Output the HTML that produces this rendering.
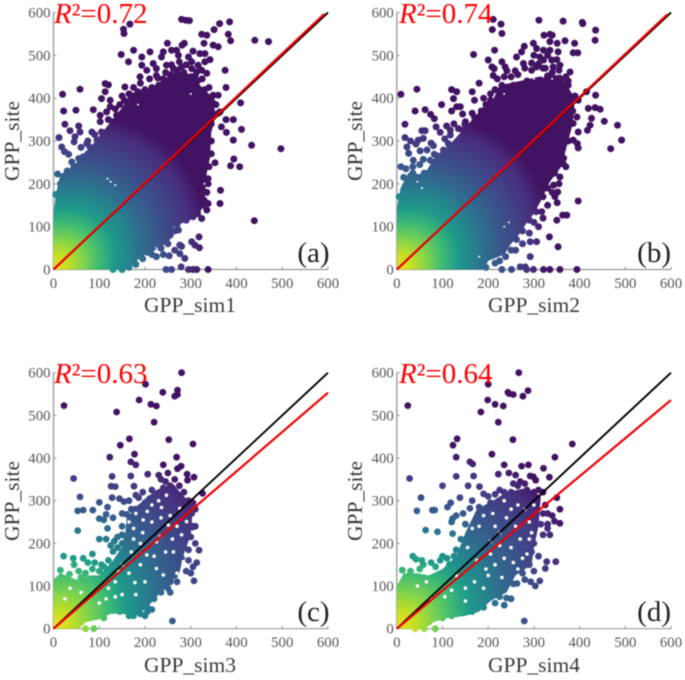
<!DOCTYPE html>
<html lang="en">
<head>
<meta charset="utf-8">
<title>GPP site vs simulated scatter panels</title>
<style>
html,body{margin:0;padding:0;background:#fff;width:685px;height:680px;overflow:hidden}
svg{display:block;filter:blur(0.4px)}
text{font-family:"Liberation Serif",serif}
.tick{font-size:14.8px;fill:#555}
.axis-title{font-size:21.5px;fill:#3a3a3a}
.r2{font-size:29px;fill:#ff0000}
.panel-tag{font-size:29px;fill:#222}
</style>
</head>
<body>
<svg id="figure" width="685" height="680" viewBox="0 0 685 680" xmlns="http://www.w3.org/2000/svg">
  <defs id="gradients"></defs>
  <g id="panel-a">
    <g class="plot"></g>
    <text class="axis-title" x="190" y="312" text-anchor="middle">GPP_sim1</text>
    <text class="axis-title" transform="translate(19,141) rotate(-90)" text-anchor="middle">GPP_site</text>
    <text class="r2" x="54" y="23"><tspan font-style="italic">R</tspan>²=0.72</text>
    <text class="panel-tag" x="329.5" y="262" text-anchor="end">(a)</text>
  </g>
  <g id="panel-b">
    <g class="plot"></g>
    <text class="axis-title" x="534" y="312" text-anchor="middle">GPP_sim2</text>
    <text class="axis-title" transform="translate(362,141) rotate(-90)" text-anchor="middle">GPP_site</text>
    <text class="r2" x="399" y="23"><tspan font-style="italic">R</tspan>²=0.74</text>
    <text class="panel-tag" x="671" y="262" text-anchor="end">(b)</text>
  </g>
  <g id="panel-c">
    <g class="plot"></g>
    <text class="axis-title" x="190" y="672" text-anchor="middle">GPP_sim3</text>
    <text class="axis-title" transform="translate(19,501) rotate(-90)" text-anchor="middle">GPP_site</text>
    <text class="r2" x="54" y="383"><tspan font-style="italic">R</tspan>²=0.63</text>
    <text class="panel-tag" x="329.5" y="621" text-anchor="end">(c)</text>
  </g>
  <g id="panel-d">
    <g class="plot"></g>
    <text class="axis-title" x="534" y="672" text-anchor="middle">GPP_sim4</text>
    <text class="axis-title" transform="translate(362,501) rotate(-90)" text-anchor="middle">GPP_site</text>
    <text class="r2" x="399" y="383"><tspan font-style="italic">R</tspan>²=0.64</text>
    <text class="panel-tag" x="671" y="621" text-anchor="end">(d)</text>
  </g>
</svg>
<script>
const tickValues = [0,100,200,300,400,500,600];
const identityLine = [0,600];
const fitSlopes = [1.008,1.006,0.922,0.893];

const coreA = [[0,0],[0,130],[5,175],[15,222],[30,232],[60,258],[90,298],[120,338],[150,378],[170,412],[210,422],[240,443],[270,465],[300,455],[320,430],[345,405],[355,362],[345,320],[342,260],[335,225],[330,160],[318,125],[290,112],[262,100],[255,70],[232,50],[192,30],[170,8],[150,0]];
const coreB = [[0,0],[0,140],[8,190],[25,225],[60,222],[85,265],[110,285],[140,320],[165,350],[190,380],[210,395],[225,430],[270,440],[310,450],[360,455],[375,425],[390,400],[385,340],[370,280],[360,240],[335,205],[315,160],[300,130],[285,110],[270,85],[250,60],[235,35],[200,20],[190,0]];
const coreC = [[0,0],[0,115],[15,130],[50,115],[80,125],[100,125],[130,160],[155,200],[160,260],[195,300],[225,325],[260,340],[285,310],[305,290],[300,220],[285,175],[275,130],[250,100],[225,75],[205,50],[180,30],[150,35],[125,35],[100,22],[70,15],[55,0]];
const coreD = [[0,0],[0,100],[15,130],[45,130],[70,125],[100,140],[130,170],[150,225],[175,280],[210,300],[240,320],[285,330],[315,310],[310,240],[300,190],[295,150],[260,125],[240,85],[205,65],[180,40],[150,30],[110,25],[80,15],[60,0]];

const pointsA = [[280,584],[289,582],[297,581],[167,573],[153,561],[154,551],[351,560],[363,574],[385,578],[382,549],[387,534],[440,535],[470,532],[324,549],[335,547],[329,528],[349,524],[360,520],[375,465],[377,425],[409,389],[393,350],[377,350],[367,333],[411,327],[393,302],[378,320],[433,290],[497,282],[394,258],[387,242],[407,240],[365,185],[364,154],[439,114],[353,249],[338,212],[20,409],[58,421],[22,370],[49,372],[25,339],[12,308],[36,324],[55,335],[58,321],[47,310],[45,298],[18,286],[24,275],[33,269],[87,373],[113,434],[120,431],[113,415],[105,399],[102,360],[102,345],[124,395],[124,380],[116,368],[84,321],[105,321],[73,294],[95,302],[116,310],[98,286],[87,271],[65,263],[55,259],[40,251],[9,223],[148,502],[175,512],[164,485],[156,426],[138,360],[193,496],[211,508],[193,477],[204,465],[189,450],[218,481],[225,469],[225,453],[236,496],[249,528],[240,508],[258,512],[269,512],[281,524],[286,528],[273,500],[305,510],[320,504],[331,504],[342,490],[331,485],[295,496],[302,485],[316,477],[302,469],[324,465],[335,458],[313,461],[247,477],[262,469],[280,473],[253,32],[276,37],[287,26],[279,6],[295,0],[305,0],[313,0],[338,0],[258,0],[246,0],[302,65],[318,76],[309,57],[319,51],[273,92],[276,57],[280,54],[338,154],[335,139],[324,119],[305,123],[329,162],[335,403],[349,407],[360,407],[349,388],[364,368],[5,175],[15,200],[30,230],[45,240],[60,255],[75,270],[100,280],[115,300],[140,340],[150,350],[165,380],[170,400],[185,415],[200,420],[215,425],[230,430],[240,445],[255,455],[270,465],[285,460],[300,450],[315,440],[330,420],[345,400],[355,385],[360,365],[345,340],[345,300],[345,270],[340,240],[338,200],[335,180],[325,150],[315,130],[290,115],[270,105],[265,90],[255,80],[250,60],[235,50],[215,35],[195,25],[180,12],[165,5],[150,0],[130,0],[155,395],[165,410],[175,425],[190,435],[210,445],[228,447],[245,460],[258,478],[275,485],[290,478],[310,452],[325,445],[340,425],[130,345],[135,375],[150,405],[170,390],[185,402],[145,385],[120,320],[130,330],[140,320],[105,300],[90,315],[75,300],[80,285],[60,285],[120,350],[160,20],[175,25],[190,35],[205,40],[145,8],[225,30],[240,35],[265,45]];

const pointsB = [[211,584],[228,573],[209,560],[230,551],[214,512],[311,582],[364,580],[406,577],[407,574],[435,559],[322,547],[335,549],[340,547],[434,535],[368,534],[389,528],[335,532],[351,528],[299,528],[279,521],[306,516],[321,512],[335,512],[353,508],[386,506],[396,506],[273,508],[168,502],[200,489],[262,496],[277,481],[295,482],[313,496],[321,489],[339,489],[230,485],[237,473],[208,473],[213,469],[211,453],[241,464],[259,464],[306,473],[342,473],[357,477],[379,461],[375,440],[9,409],[44,421],[40,370],[62,373],[74,362],[82,352],[18,339],[86,333],[18,308],[98,385],[120,420],[131,415],[124,399],[131,380],[120,370],[139,380],[144,363],[109,335],[117,325],[135,329],[149,339],[55,324],[62,324],[58,306],[47,302],[42,293],[22,286],[26,271],[51,277],[66,279],[80,289],[82,269],[58,257],[9,240],[50,245],[117,314],[113,294],[102,279],[36,255],[73,255],[415,415],[397,395],[435,407],[434,378],[445,374],[454,346],[483,337],[492,302],[468,282],[419,376],[426,353],[423,337],[417,325],[394,356],[386,341],[397,321],[386,302],[395,294],[397,284],[364,247],[357,216],[343,197],[352,181],[346,170],[351,156],[397,160],[372,127],[363,127],[350,115],[317,135],[310,100],[334,76],[353,53],[292,65],[306,65],[292,30],[270,6],[281,6],[299,0],[321,0],[335,0],[357,0],[394,0],[251,0],[230,0],[284,0],[5,170],[15,215],[35,225],[60,225],[90,265],[115,290],[145,325],[170,355],[185,370],[195,385],[205,395],[170,395],[165,415],[180,435],[190,400],[215,420],[230,430],[255,430],[285,440],[330,452],[375,430],[390,405],[385,370],[375,300],[365,260],[345,225],[330,190],[320,170],[305,135],[290,115],[275,90],[262,70],[250,45],[238,30],[215,15],[195,5],[250,450],[265,455],[280,470],[295,465],[310,480],[325,470],[340,460],[355,465],[370,450],[300,500],[320,470],[350,490],[330,500],[220,445],[235,450],[205,410],[150,345],[165,365],[125,340],[95,320],[105,305],[75,295],[30,300],[35,240],[20,235],[300,110],[320,120],[330,150],[340,180],[355,200],[370,240],[260,45],[275,60],[225,20],[290,85]];

const pointsC = [[280,600],[201,573],[187,536],[239,554],[271,559],[271,549],[265,545],[213,526],[225,522],[23,523],[138,508],[220,484],[166,445],[146,430],[252,443],[305,433],[177,409],[123,402],[269,402],[169,391],[180,384],[240,384],[279,381],[271,375],[206,362],[128,357],[169,358],[292,362],[307,355],[44,352],[126,334],[135,333],[176,334],[293,348],[58,309],[128,307],[144,305],[154,298],[180,313],[186,307],[100,296],[118,285],[53,276],[65,278],[86,278],[53,230],[100,210],[326,317],[318,184],[313,155],[307,112],[260,18],[303,238],[302,270],[299,294],[15,137],[22,170],[43,165],[45,150],[55,135],[65,165],[75,155],[85,175],[90,155],[100,135],[110,145],[125,120],[35,128],[130,181],[133,205],[115,210],[118,235],[110,255],[100,258],[115,268],[130,260],[140,215],[150,220],[160,210],[150,200],[150,270],[160,268],[170,280],[180,280],[190,285],[200,295],[210,305],[215,325],[225,310],[240,330],[235,350],[245,345],[255,335],[265,350],[275,335],[285,320],[295,300],[305,295],[310,280],[290,270],[305,240],[290,215],[300,215],[285,190],[275,200],[295,160],[290,135],[300,130],[270,155],[280,165],[260,150],[250,140],[265,125],[255,110],[240,105],[230,100],[250,95],[220,70],[200,90],[205,50],[205,40],[200,30],[190,35],[175,30],[165,30],[180,50],[170,70],[145,40],[120,45],[130,60],[110,25],[95,30],[85,45],[70,0],[88,0],[60,15],[65,30],[70,130],[85,140],[60,120],[105,150],[120,160],[125,195],[140,190],[150,240],[165,300],[195,320],[230,360],[250,365],[260,330],[280,300],[295,250],[310,240],[310,200],[295,185],[305,145],[270,110],[255,85],[235,85],[215,45]];

const pointsD = [[267,600],[200,573],[199,536],[184,508],[24,523],[215,526],[233,522],[222,484],[243,554],[246,551],[255,549],[276,545],[287,558],[254,443],[132,445],[123,430],[384,433],[130,402],[208,409],[160,391],[166,386],[235,384],[273,381],[288,384],[321,376],[346,402],[130,357],[168,358],[28,352],[222,362],[100,335],[156,335],[181,333],[292,358],[299,356],[334,355],[304,348],[53,307],[138,307],[190,316],[118,295],[111,285],[44,276],[78,278],[83,278],[63,231],[89,227],[122,223],[348,157],[357,280],[357,247],[345,252],[350,307],[328,157],[325,141],[313,112],[293,110],[303,100],[263,106],[279,18],[84,0],[12,137],[35,170],[42,163],[55,160],[58,150],[75,155],[95,160],[100,170],[110,165],[125,170],[140,165],[150,200],[120,250],[122,258],[130,265],[145,270],[160,282],[180,285],[195,270],[205,295],[215,315],[235,320],[250,320],[255,340],[245,365],[260,360],[270,345],[280,340],[285,325],[300,320],[320,320],[305,300],[320,270],[330,270],[315,245],[330,245],[320,220],[335,220],[330,235],[300,200],[295,180],[290,150],[270,140],[275,130],[250,135],[240,125],[235,100],[220,95],[225,75],[240,72],[250,70],[235,55],[205,80],[190,80],[195,110],[175,50],[165,40],[150,50],[130,35],[120,30],[100,25],[100,50],[85,30],[70,15],[60,0],[40,0],[50,140],[30,135],[85,145],[115,150],[130,185],[140,210],[150,245],[165,300],[200,310],[225,325],[265,335],[310,325],[325,290],[340,265],[300,135],[310,170],[280,115],[255,105],[215,60],[190,50]];

const gapsA = [[125,205],[135,197],[118,212],[225,50],[205,30],[330,200],[300,410],[185,385]];
const gapsB = [[300,445],[320,450],[340,445],[235,410],[55,190],[45,205],[235,100],[245,110],[180,30]];
const gapsC = [[178,108],[196,255],[236,284],[233,216],[200,110],[36,95],[247,313],[225,204],[175,235],[276,282],[251,243],[291,251],[262,180],[284,157],[204,173],[142,134],[225,141],[240,126],[165,250],[215,290],[120,95],[135,110],[150,150],[170,180],[190,200],[215,250],[235,260],[255,265],[270,240],[260,210],[280,220],[245,180],[220,170],[190,150],[165,130],[150,80],[180,80],[135,75],[115,70],[100,60],[60,85],[25,70],[270,130],[180,270],[205,275],[230,300],[195,225],[175,210]];
const gapsD = [[130,125],[180,240],[205,205],[225,225],[240,260],[265,290],[290,250],[250,190],[215,150],[270,210],[235,165],[200,125],[275,165],[290,210],[250,280],[210,270],[170,110],[150,95],[45,100],[190,265],[165,235],[155,190],[175,160],[205,175],[225,195],[260,240],[280,280],[235,300],[300,290],[285,175],[255,155],[230,120],[190,95],[150,65],[120,90],[105,75],[75,70],[65,110],[265,140],[295,225],[215,240],[195,140]];

const NS = 'http://www.w3.org/2000/svg';
const colorStops = [[0,'#f0e41e'],[0.1,'#c4df23'],[0.2,'#7fd34e'],[0.3,'#3fbc73'],[0.4,'#1f9a8a'],[0.5,'#25828e'],[0.6,'#31688e'],[0.75,'#3e4a89'],[0.9,'#472f7d'],[1,'#431363']];

const panels = [
  {id:'a',x0:53.5,x1:328,y0:269.5,y1:12.5,core:coreA,points:pointsA,gaps:gapsA,gapR:1,slope:fitSlopes[0],rd:168,rp:135,r:3.5,lastX:592},
  {id:'b',x0:396.8,x1:671,y0:269.5,y1:12.5,core:coreB,points:pointsB,gaps:gapsB,gapR:1,slope:fitSlopes[1],rd:168,rp:135,r:3.5,lastX:592},
  {id:'c',x0:53.5,x1:328,y0:628.7,y1:372.7,core:coreC,points:pointsC,gaps:gapsC,gapR:1.8,slope:fitSlopes[2],rd:200,rp:160,r:3.4,lastX:600},
  {id:'d',x0:396.8,x1:671,y0:628.7,y1:372.7,core:coreD,points:pointsD,gaps:gapsD,gapR:1.8,slope:fitSlopes[3],rd:200,rp:160,r:3.4,lastX:600}
];

function make(tag, attrs, parent){
  const el = document.createElementNS(NS, tag);
  for (const k in attrs) el.setAttribute(k, attrs[k]);
  parent.appendChild(el);
  return el;
}

function drawPanel(p){
  const sx = v => p.x0 + (v - 0) / 600 * (p.x1 - p.x0);
  const sy = v => p.y0 + (v - 0) / 600 * (p.y1 - p.y0);
  const root = document.querySelector('#panel-' + p.id + ' .plot');

  const grad = make('radialGradient', {id:'density-' + p.id, gradientUnits:'userSpaceOnUse', cx:0, cy:0, r:1,
    gradientTransform:'translate(' + sx(0) + ',' + sy(0) + ') rotate(-45) scale(' + p.rd + ',' + p.rp + ')'}, document.getElementById('gradients'));
  colorStops.forEach(s => make('stop', {offset:s[0], 'stop-color':s[1]}, grad));

  const axes = make('g', {}, root);
  
  
  const yAxis = make('line', {x1:p.x0, x2:p.x0, y1:p.y0, y2:p.y1, stroke:'#a9a9a9', 'stroke-width':1.6}, axes);
  
  
  const xAxis = make('line', {x1:p.x0, x2:p.x1, y1:p.y0, y2:p.y0, stroke:'#808080', 'stroke-width':0.9}, axes);
  
  

  tickValues.forEach(v => {
    const xt = make('line', {x1:sx(v), x2:sx(v), y1:p.y0, y2:p.y0 - 3, stroke:'#808080', 'stroke-width':0.8}, axes);
    
    
    const yt = make('line', {x1:p.x0, x2:p.x0 + 3, y1:sy(v), y2:sy(v), stroke:'#808080', 'stroke-width':0.8}, axes);
    
    
    const xl = make('text', {class:'tick', x:sx(v), y:p.y0 + 18.5, 'text-anchor':'middle'}, axes);
    
    
    xl.textContent = v;
    const yl = make('text', {class:'tick', x:p.x0 - 3, y:sy(v) + 5, 'text-anchor':'end'}, axes);
    
    
    yl.textContent = v;
  });

  const fill = 'url(#density-' + p.id + ')';
  const d = p.core.map((c,i) => (i ? 'L' : 'M') + sx(c[0]).toFixed(1) + ' ' + sy(c[1]).toFixed(1)).join('') + 'Z';
  const core = make('path', {d:d, fill:fill}, root);
  
  

  const dots = make('g', {fill:fill}, root);
  
  
  p.points.forEach(pt => {
    const c = make('circle', {cx:sx(pt[0]).toFixed(1), cy:sy(pt[1]).toFixed(1), r:p.r}, dots);
    
    
  });

  const holes = make('g', {fill:'#ffffff'}, root);
  
  
  p.gaps.forEach(pt => {
    const h = make('circle', {cx:sx(pt[0]).toFixed(1), cy:sy(pt[1]).toFixed(1), r:p.gapR}, holes);
    
    
  });

  const oneToOne = make('line', {x1:sx(identityLine[0]), y1:sy(identityLine[0]), x2:sx(identityLine[1]), y2:sy(identityLine[1]), stroke:'#000', 'stroke-width':1.9}, root);
  
  
  const fit = make('line', {x1:sx(0), y1:sy(0), x2:sx(p.lastX), y2:sy(p.lastX * p.slope), stroke:'#f00000', 'stroke-width':2.2}, root);
  
  
}

panels.forEach(drawPanel);
</script>
</body>
</html>
